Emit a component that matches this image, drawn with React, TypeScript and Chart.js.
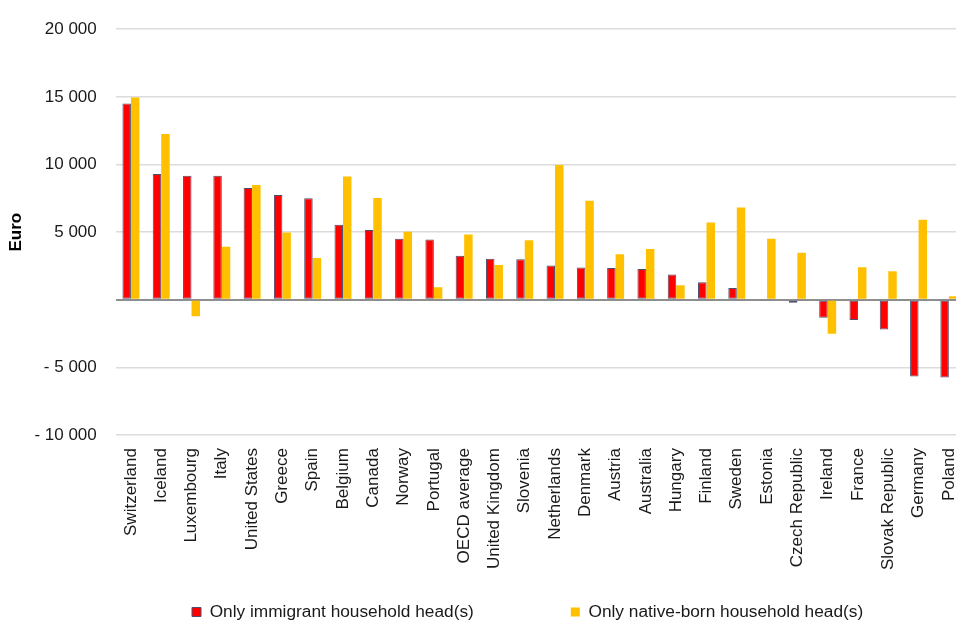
import { useEffect, useRef } from 'react';
import { Chart, registerables } from 'chart.js';

Chart.register(...registerables);

const categories = [
  'Switzerland', 'Iceland', 'Luxembourg', 'Italy', 'United States', 'Greece', 'Spain',
  'Belgium', 'Canada', 'Norway', 'Portugal', 'OECD average', 'United Kingdom', 'Slovenia',
  'Netherlands', 'Denmark', 'Austria', 'Australia', 'Hungary', 'Finland', 'Sweden',
  'Estonia', 'Czech Republic', 'Ireland', 'France', 'Slovak Republic', 'Germany', 'Poland',
];

const immigrantValues = [
  14500, 9290, 9160, 9160, 8260, 7740, 7500,
  5540, 5150, 4515, 4460, 3260, 3040, 2990,
  2530, 2380, 2350, 2280, 1870, 1300, 880,
  -60, -220, -1320, -1490, -2200, -5660, -5735,
];

const nativeValues = [
  14950, 12250, -1220, 3920, 8480, 4970, 3090,
  9120, 7530, 5030, 930, 4830, 2570, 4410,
  9960, 7330, 3360, 3750, 1080, 5710, 6820,
  4510, 3480, -2500, 2400, 2110, 5910, 270,
];

const seriesLabels = ['Only immigrant household head(s)', 'Only native-born household head(s)'];

const yTickValues = [-10000, -5000, 0, 5000, 10000, 15000, 20000];
const yTickLabels = ['- 10 000', '- 5 000', '', '5 000', '10 000', '15 000', '20 000'];

const FONT = "'Liberation Sans', Arial, Helvetica, sans-serif";
const FONT_SIZE = 17;
const LEGEND_FONT_SIZE = 17.3;
const LEGEND_BOX_X = 192;
const LEGEND_CENTER_Y = 612;

const legendPlacement = {
  id: 'legendPlacement',
  afterLayout(chart: any) {
    const lg = chart.legend;
    if (!lg) return;
    const pad = lg.options.labels.padding;
    lg.left = LEGEND_BOX_X - pad;
    lg.right = 1200;
    lg.width = lg.right - lg.left;
    lg.top = LEGEND_CENTER_Y - pad - LEGEND_FONT_SIZE / 2;
    lg.bottom = chart.height;
    lg.height = lg.bottom - lg.top;
  },
};

export default function App() {
  const canvasRef = useRef<HTMLCanvasElement | null>(null);

  useEffect(() => {
    if (!canvasRef.current) return;
    Chart.defaults.font.family = FONT;
    const chart = new Chart(canvasRef.current, {
      type: 'bar',
      data: {
        labels: categories,
        datasets: [
          {
            label: seriesLabels[0],
            data: immigrantValues,
            backgroundColor: '#FF0000',
            borderColor: '#4E4E6E',
            borderWidth: 1,
            borderSkipped: false,
          },
          {
            label: seriesLabels[1],
            data: nativeValues,
            backgroundColor: '#FFC000',
            borderColor: '#FFD24D',
            borderWidth: 0,
          },
        ],
      },
      options: {
        responsive: false,
        animation: false,
        devicePixelRatio: 1,
        layout: { padding: { top: 22, left: 6, right: 0, bottom: 0 } },
        datasets: {
          bar: { categoryPercentage: 0.56, barPercentage: 1.0 },
        },
        plugins: {
          legend: {
            display: true,
            position: 'bottom',
            align: 'start',
            fullSize: true,
            maxHeight: 41,
            labels: {
              boxWidth: 9,
              boxHeight: 9,
              padding: 97,
              color: '#1a1a1a',
              font: { size: LEGEND_FONT_SIZE, family: FONT },
            },
          },
          tooltip: { enabled: false },
        },
        scales: {
          x: {
            grid: { display: false, drawTicks: false },
            border: { display: false },
            afterFit: (scale: any) => {
              scale.paddingRight = 0;
              scale.paddingLeft = 0;
            },
            ticks: {
              autoSkip: false,
              minRotation: 90,
              maxRotation: 90,
              padding: 13,
              color: '#1a1a1a',
              font: { size: FONT_SIZE, family: FONT },
            },
          },
          y: {
            min: -10000,
            max: 20000,
            afterBuildTicks: (scale: any) => {
              scale.ticks = yTickValues.map((v) => ({ value: v }));
            },
            grid: {
              drawTicks: false,
              color: (ctx: any) => (ctx.tick && ctx.tick.value === 0 ? '#8E8E8E' : '#DCDCDC'),
              lineWidth: (ctx: any) => (ctx.tick && ctx.tick.value === 0 ? 2 : 1.5),
            },
            border: { display: false },
            ticks: {
              padding: 19,
              color: '#1a1a1a',
              font: { size: FONT_SIZE, family: FONT },
              callback: (value: any) => {
                const i = yTickValues.indexOf(Number(value));
                return i >= 0 ? yTickLabels[i] : '';
              },
            },
            title: {
              display: true,
              text: 'Euro',
              color: '#000000',
              font: { size: FONT_SIZE, weight: 'bold', family: FONT },
              padding: { top: 0, bottom: -11 },
            },
          },
        },
      },
      plugins: [legendPlacement],
    } as any);
    return () => chart.destroy();
  }, []);

  return (
    <div style={{ position: 'absolute', left: 0, top: 0, width: 956, height: 624, overflow: 'hidden', background: '#ffffff' }}>
      <canvas ref={canvasRef} width={964} height={624} style={{ display: 'block' }} />
    </div>
  );
}
